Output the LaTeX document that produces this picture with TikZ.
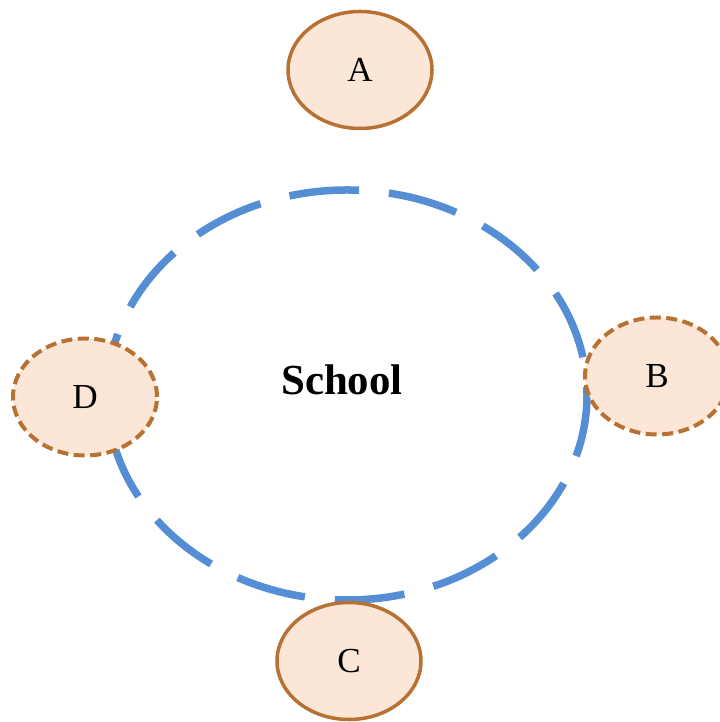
\documentclass[tikz,border=0pt]{standalone}
\usepackage{fontspec}
\setmainfont{Liberation Serif}
\usepackage{tikz}
\usetikzlibrary{shapes.geometric}

\definecolor{ringblue}{RGB}{85,142,213}
\definecolor{placefill}{RGB}{251,230,216}
\definecolor{placeline}{RGB}{183,114,51}

\begin{document}
\begin{tikzpicture}
    \tikzstyle{ring}=[draw=ringblue,ellipse,line width=0.075cm,dash pattern=on 0.7cm off 0.3cm,dash phase=0.62cm,minimum width=4.8cm,minimum height=4.1cm,inner sep=0pt]
    \tikzstyle{place}=[draw=placeline,fill=placefill,text=black,ellipse,line width=0.035cm,minimum width=1.44cm,minimum height=1.17cm,inner sep=0pt,font=\fontsize{10}{12}\selectfont]
    \tikzstyle{placedashed}=[place,line width=0.04cm,dash pattern=on 0.11cm off 0.055cm]

    \useasboundingbox (0,0) rectangle (7.2,7.22);

    \node[ring] (ring) at (3.47, 3.27) {};
    \node[font=\bfseries\fontsize{12.2}{14}\selectfont] (school) at (3.42, 3.42) {School};

    \node[place] (a) at (3.60, 6.52) {A};
    \node[placedashed] (b) at (6.57, 3.46) {B};
    \node[place] (c) at (3.49, 0.61) {C};
    \node[placedashed] (d) at (0.85, 3.25) {D};

\end{tikzpicture}
\end{document}
